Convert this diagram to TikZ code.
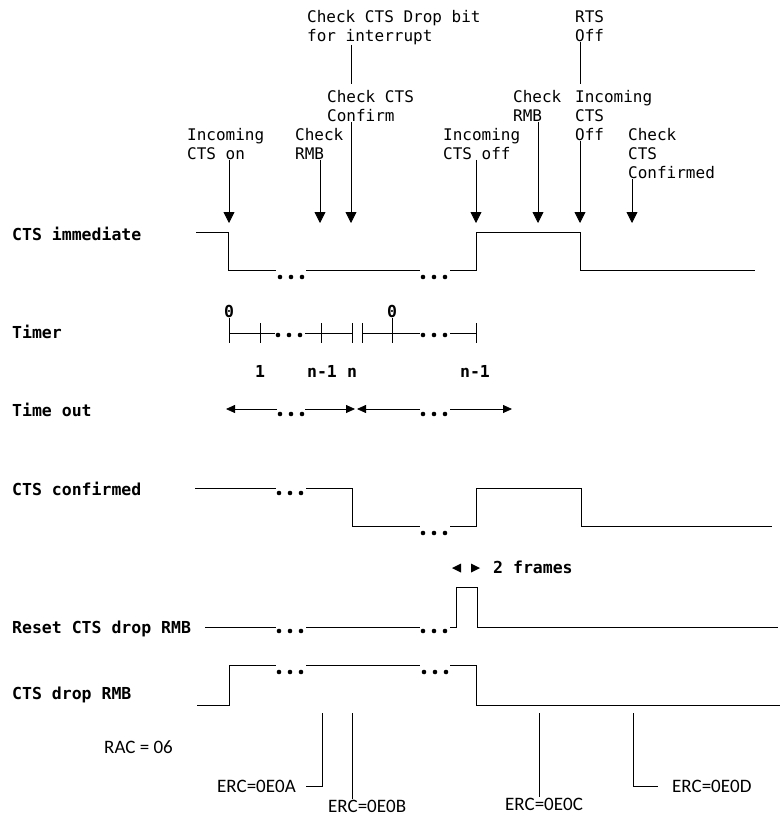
\documentclass[tikz,border=0pt]{standalone}
\usepackage{fontspec}
\setmonofont{DejaVu Sans Mono}
\newfontfamily\ercfont{Carlito}
\usetikzlibrary{arrows.meta,positioning}

\tikzset{
  note/.style={font=\ttfamily\fontsize{16}{19}\selectfont, align=left, anchor=north west, inner sep=0pt},
  rowlab/.style={font=\ttfamily\bfseries\fontsize{16.5}{19}\selectfont, anchor=base west, inner sep=0pt},
  erc/.style={font=\ercfont\fontsize{19}{22}\selectfont, anchor=base west, inner sep=0pt},
  sig/.style={line width=0.8pt},
  hit/.style={line width=0.8pt, -{Triangle[length=11pt,width=11pt]}},
  tout/.style={line width=0.8pt, -{Triangle[length=9pt,width=8pt]}},
}

\begin{document}
\begin{tikzpicture}[x=1pt,y=-1pt]
    \useasboundingbox (0,0) rectangle (783,825);
    % event labels
    \node[note] (dropbit) at (307,10) {Check CTS Drop bit\\for interrupt};
    \node[note] (rtsoff) at (575,10) {RTS\\Off};
    \node[note] (confirm) at (327,90) {Check CTS\\Confirm};
    \node[note] (rmbb) at (513,90) {Check\\RMB};
    \node[note] (incoff) at (575,90) {Incoming\\CTS\\Off};
    \node[note] (ctson) at (187,128) {Incoming\\CTS on};
    \node[note] (rmba) at (295,128) {Check\\RMB};
    \node[note] (ctsoff) at (443,128) {Incoming\\CTS off};
    \node[note] (confd) at (628,128) {Check\\CTS\\Confirmed};
    \coordinate (a1) at (229,223); \coordinate (a2) at (320,223);
    \coordinate (a3) at (351,223); \coordinate (a4) at (476,223);
    \coordinate (a5) at (538,223); \coordinate (a6) at (580,223);
    \coordinate (a7) at (632,223);
    \draw[sig, shorten >=6pt] (dropbit.south -| a3) -- (confirm.north -| a3);
    \draw[sig, shorten >=6pt] (rtsoff.south -| a6) -- (incoff.north -| a6);
    \draw[hit] (ctson.south -| a1) -- (a1);
    \draw[hit] (rmba.south -| a2) -- (a2);
    \draw[hit] (confirm.south -| a3) -- (a3);
    \draw[hit] (ctsoff.south -| a4) -- (a4);
    \draw[hit] (rmbb.south -| a5) -- (a5);
    \draw[hit] (incoff.south -| a6) -- (a6);
    \draw[hit] (confd.south -| a7) -- (a7);

    % row labels
    \node[rowlab] (lbimm) at (12,240) {CTS immediate};
    \node[rowlab] (lbtimer) at (12,338) {Timer};
    \node[rowlab] (lbtout) at (12,416) {Time out};
    \node[rowlab] (lbconf) at (12,495) {CTS confirmed};
    \node[rowlab] (lbreset) at (12,633) {Reset CTS drop RMB};
    \node[rowlab] (lbdrop) at (12,699) {CTS drop RMB};
    \node[erc] (rac) at (104,753) {RAC = 06};

    % CTS immediate
    \draw[sig] (196,232) -- (228,232) -- (228,270) -- (276,270) (306,270) -- (420,270)
        (450,270) -- (476,270) -- (476,232) -- (580,232) -- (580,270) -- (755,270);

    % timer
    \draw[sig] (229,333) -- (275,333) (305,333) -- (352,333) (362,333) -- (420,333) (450,333) -- (476,333);
    \foreach \tx in {260,321,352,362,476} \draw[sig] (\tx,323) -- (\tx,343);
    \foreach \tx in {229,392} \draw[sig] (\tx,318) -- (\tx,343);
    \node[rowlab, anchor=base] (zeroa) at (229,317) {0};
    \node[rowlab, anchor=base] (zerob) at (392,317) {0};
    \node[rowlab, anchor=base] (cnta) at (260,377) {1};
    \node[rowlab, anchor=base] (cntb) at (322,377) {n-1};
    \node[rowlab, anchor=base] (cntc) at (352,377) {n};
    \node[rowlab, anchor=base] (cntd) at (475,377) {n-1};

    % time out
    \draw[tout] (277,409) -- (226,409);
    \draw[tout] (305,409) -- (355,409);
    \draw[tout] (420,409) -- (357,409);
    \draw[tout] (450,409) -- (512,409);

    % CTS confirmed
    \draw[sig] (195,488) -- (276,488) (306,488) -- (352,488) -- (352,526) -- (420,526)
        (450,526) -- (476,526) -- (476,488) -- (581,488) -- (581,526) -- (772,526);

    % 2 frames
    \fill (452,568) -- (461,563.5) -- (461,572.5) -- cycle;
    \fill (480,568) -- (471,563.5) -- (471,572.5) -- cycle;
    \node[rowlab] (frames) at (493,573) {2 frames};

    % reset CTS drop RMB
    \draw[sig] (205,627) -- (276,627) (306,627) -- (420,627)
        (450,627) -- (456,627) -- (456,587) -- (477,587) -- (477,627) -- (778,627);

    % CTS drop RMB
    \draw[sig] (197,705) -- (229,705) -- (229,665) -- (276,665) (306,665) -- (420,665)
        (450,665) -- (476,665) -- (476,705) -- (780,705);

    % dots
    \foreach \cx/\cy in {280/277,423/277,278/335,423/335,280/414,423/414,279/493,423/533,279/631,423/631,279/672,424/672}
        \foreach \k in {0,11,22} \fill (\cx+\k,\cy) circle (2.3pt);

    % error codes
    \coordinate (ea) at (322,713); \coordinate (eb) at (352,713);
    \coordinate (ec) at (539,713); \coordinate (ed) at (633,713);
    \node[erc] (erca) at (217,792) {ERC=0E0A};
    \node[erc] (ercb) at (328,812) {ERC=0E0B};
    \node[erc] (ercc) at (505,810) {ERC=0E0C};
    \node[erc] (ercd) at (672,792) {ERC=0E0D};
    \draw[sig] (ea) |- ([xshift=10pt]erca.east);
    \draw[sig] (eb) -- (eb |- ercb.north);
    \draw[sig] (ec) -- (ec |- ercc.north);
    \draw[sig] (ed) |- ([xshift=-14pt]ercd.west);
\end{tikzpicture}
\end{document}
